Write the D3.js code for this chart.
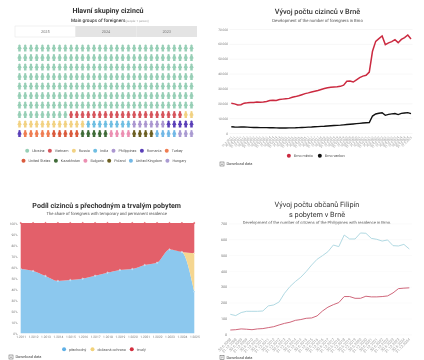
<!DOCTYPE html>
<html>
<head>
<meta charset="utf-8">
<script src="https://cdn.jsdelivr.net/npm/d3@7"></script>
<style>
  html, body { margin: 0; padding: 0; background: #fff; }
  svg { display: block; font-family: Roboto, sans-serif; will-change: transform; text-rendering: geometricPrecision; }
  .title { font-size: 7.1px; font-weight: 700; fill: #333; text-anchor: middle; }
  .title.light { font-size: 7.3px; font-weight: 400; }
  .sub { font-size: 4.2px; fill: #555; text-anchor: middle; }
  .tick text { fill: #777; }
  .legend { font-size: 3.7px; fill: #555; }
  .dl { font-size: 3.9px; fill: #444; }
</style>
</head>
<body>
<div id="container"></div>
<script>
// ---- waffle: main groups of foreigners
const groupNames = ["Ukraine", "Vietnam", "Russia", "India", "Philippines", "Romania", "Turkey",
  "United States", "Kazakhstan", "Bulgaria", "Poland", "United Kingdom", "Hungary"];
const groupCounts = [226, 20, 14, 8, 6, 6, 5, 5, 5, 4, 4, 4, 3];
const groupColors = ["#97cfb6", "#d6555c", "#f2d282", "#6fbee2", "#ab96d0", "#5a3fb8", "#ef7d52",
  "#da5a3c", "#3f6b38", "#ec8fb2", "#6c5f22", "#72b8e6", "#aa9bd2"];
const tabYears = ["2025", "2024", "2023"];

// ---- foreigners in Brno, quarterly
const quarterLabels = d3.range(2011, 2025).flatMap(y => ["31.3." + y, "30.6." + y, "30.9." + y, "31.12." + y]).concat(["31.3.2025"]);
const brnoCity = [20000, 19600, 18900, 19000, 20100, 20300, 20600, 20500, 20900, 20700, 20800, 21200,
  21800, 22000, 21900, 22500, 22800, 23100, 23300, 24000, 24500, 25100, 25800, 26500,
  27000, 27600, 28100, 28600, 29300, 29900, 30400, 30800, 31000, 31100, 31400, 32200,
  34800, 35000, 34300, 35800, 37300, 38300, 38800, 41000, 55000, 61700, 63500, 65300,
  59500, 60700, 61500, 62800, 60800, 63000, 64200, 66000, 63300];
const brnoRural = [4200, 4050, 3950, 4000, 4050, 3950, 3800, 3750, 3700, 3650, 3600, 3600,
  3550, 3500, 3450, 3400, 3400, 3400, 3450, 3450, 3500, 3600, 3700, 3800,
  3950, 4050, 4200, 4300, 4450, 4550, 4700, 4850, 5000, 5150, 5300, 5500,
  5700, 5900, 6100, 6300, 6500, 6700, 6850, 7000, 11400, 12800, 13300, 13650,
  11900, 12500, 12900, 13100, 12400, 13200, 13500, 13700, 13000];

// ---- share by residence type
const shareLabels = ["1.2011", "1.2012", "1.2013", "1.2014", "1.2015", "1.2016", "1.2017", "1.2018",
  "1.2019", "1.2020", "1.2021", "1.2022", "1.2023", "1.2024", "1.2025"];
const shareTemporary = [58.3, 56.5, 52, 47.5, 48.3, 49.5, 52.2, 55, 57.4, 58.3, 61.9, 64, 76, 73.7, 37.7];
const shareProtection = [0, 0, 0, 0, 0, 0, 0, 0, 0, 0, 0, 0, 0, 0, 34.8];
const sharePermanent = [41.7, 43.5, 48, 52.5, 51.7, 50.5, 47.8, 45, 42.6, 41.7, 38.1, 36, 24, 26.3, 27.5];
const shareNames = ["přechodný", "dočasná ochrana", "trvalý"];
const shareColors = ["#8cc8ee", "#f5d690", "#e3606a"];
const shareLegendColors = ["#5fb0e6", "#f2d27a", "#d32f3f"];

// ---- citizens of the Philippines
const filipinoLabels = d3.range(2008, 2025).flatMap(y => ["30.6." + y, "31.12." + y]);
const filipinoTotal = [126, 118, 137, 145, 145, 145, 147, 179, 185, 204, 259, 301, 333, 360, 396, 437, 473,
  496, 521, 563, 553, 626, 601, 601, 639, 637, 605, 599, 588, 595, 559, 557, 567, 538];
const filipinoResidence = [27, 29, 34, 32, 29, 34, 36, 42, 48, 59, 69, 76, 88, 93, 101, 103, 116,
  147, 171, 187, 200, 238, 238, 227, 227, 240, 236, 236, 238, 242, 261, 288, 291, 293];

const svg = d3.select("#container").append("svg")
    .attr("width", 424)
    .attr("height", 360);

const spaced = d => d3.format(",")(d).replace(/,/g, " ");

function titles(lines, sub, cx, ys, light) {
  lines.forEach((t, i) => {
    svg.append("text").attr("class", light ? "title light" : "title")
      .attr("x", cx).attr("y", ys[i]).text(t);
  });
  return svg.append("text").attr("class", "sub").attr("x", cx).attr("y", ys[lines.length]).text(sub);
}

// items laid out on one line, centred around cx
function legendRow(names, colors, cx, y, r, gap) {
  const g = svg.append("g");
  const items = g.selectAll("g").data(names).enter().append("g");
  items.append("circle").attr("r", r).attr("cy", 0)
    .attr("fill", (d, i) => colors[i]);
  items.append("text").attr("class", "legend").attr("x", r + 3).attr("y", 1.3).text(d => d);
  let pos = 0;
  items.each(function() {
    d3.select(this).attr("transform", "translate(" + pos + ",0)");
    pos += this.getBBox().width + gap;
  });
  g.attr("transform", "translate(" + (cx - (pos - gap) / 2 + r) + "," + y + ")");
}

function download(x, y) {
  const g = svg.append("g").attr("transform", "translate(" + x + "," + y + ")");
  g.append("rect").attr("x", -2).attr("y", -2).attr("width", 4).attr("height", 4)
    .attr("fill", "none").attr("stroke", "#555").attr("stroke-width", 0.5);
  g.append("path").attr("d", "M0,-1.2V0.8M-0.8,0.2L0,1L0.8,0.2").attr("fill", "none")
    .attr("stroke", "#555").attr("stroke-width", 0.4);
  g.append("text").attr("class", "dl").attr("x", 4.5).attr("y", 1.4).text("Download data");
}

function yAxis(scale, values, format, left, right, fontSize, padding) {
  const g = svg.append("g")
    .attr("transform", "translate(" + left + ",0)")
    .call(d3.axisLeft(scale).tickValues(values).tickFormat(format)
      .tickSize(left - right).tickPadding(padding));
  g.select(".domain").remove();
  g.selectAll(".tick line").attr("stroke", "#eee").attr("stroke-width", 0.5);
  g.selectAll(".tick text").style("font-size", fontSize + "px").attr("font-family", "Roboto");
  return g;
}

function xAxisRotated(scale, y, fontSize) {
  const g = svg.append("g")
    .attr("transform", "translate(0," + y + ")")
    .call(d3.axisBottom(scale).tickSize(0).tickPadding(0));
  g.select(".domain").remove();
  g.selectAll(".tick text")
    .style("font-size", fontSize + "px").attr("font-family", "Roboto")
    .style("text-anchor", "end")
    .style("fill", "#999")
    .attr("dy", "0.3em")
    .attr("transform", "rotate(-45)");
  return g;
}

//-----------------------------WAFFLE-----------------------------//
svg.append("text").attr("class", "title").attr("x", 108).attr("y", 13).text("Hlavní skupiny cizinců");
svg.append("text").attr("x", 71).attr("y", 21.5).attr("font-size", 4.7).attr("font-weight", 500).attr("fill", "#444")
    .text("Main groups of foreigners");
svg.append("text").attr("x", 125.5).attr("y", 21.5).attr("font-size", 2.9).attr("fill", "#999").text("(people: 1 person)");

const tabX = d3.scaleBand().domain(tabYears).range([15, 197]);
const tabs = svg.selectAll(".tab").data(tabYears).enter().append("g");
tabs.append("rect")
    .attr("x", d => tabX(d)).attr("y", 26)
    .attr("width", tabX.bandwidth()).attr("height", 11)
    .attr("fill", (d, i) => i == 0 ? "#fff" : "#e4e4e4")
    .attr("stroke", (d, i) => i == 0 ? "#ddd" : "none")
    .attr("stroke-width", 0.4);
tabs.append("text")
    .attr("x", d => tabX(d) + tabX.bandwidth() / 2).attr("y", 33)
    .attr("text-anchor", "middle").attr("font-size", 3.8).attr("fill", "#777")
    .text(d => d);

const cols = 31, rows = 10;
const colX = d3.scalePoint().domain(d3.range(cols)).range([19.5, 191.5]);
const rowY = d3.scalePoint().domain(d3.range(rows)).range([48, 133.5]);
const cells = groupCounts.flatMap((n, g) => d3.range(n).map(() => g));
// head and body with arms, joined so it reads as one chunky figure at this size
const personIcon = "M0,-4a1.3,1.3 0 1,1 -0.01,0Z M-1.3,-1.7H1.3L2.4,0.8L1.4,1.3V3.9H-1.4V1.3L-2.4,0.8Z";

svg.selectAll(".person").data(cells).enter().append("path")
    .attr("class", "person")
    .attr("d", personIcon)
    .attr("fill", d => groupColors[d])
    .attr("transform", (d, i) => "translate(" + colX(i % cols) + "," + rowY(Math.floor(i / cols)) + ") scale(0.9)");

legendRow(groupNames.slice(0, 7), groupColors.slice(0, 7), 104, 150.7, 2, 3.3);
legendRow(groupNames.slice(7), groupColors.slice(7), 104, 160.7, 2, 3.3);

//---------------------------BRNO LINES---------------------------//
titles(["Vývoj počtu cizinců v Brně"], "Development of the number of foreigners in Brno", 317.5, [13.5, 21.5], true)
svg.select(".title.light").style("font-weight", 500);

const brnoX = d3.scalePoint().domain(quarterLabels).range([231.3, 411]);
const brnoY = d3.scaleLinear().domain([0, 70000]).range([133, 29]);
yAxis(brnoY, d3.range(0, 70001, 10000), spaced, 229.5, 412.5, 3.2, 1.5);
xAxisRotated(brnoX, 137, 3);

const brnoLine = d3.line().x((d, i) => brnoX(quarterLabels[i])).y(d => brnoY(d));
svg.append("path").datum(brnoCity).attr("d", brnoLine)
    .attr("fill", "none").attr("stroke", "#cb2a40").attr("stroke-width", 1.5);
svg.append("path").datum(brnoRural).attr("d", brnoLine)
    .attr("fill", "none").attr("stroke", "#111").attr("stroke-width", 1.4);

legendRow(["Brno město", "Brno venkov"], ["#cb2a40", "#111"], 316, 155.7, 2, 5);
download(222, 164);

//-----------------------------SHARE------------------------------//
titles(["Podíl cizinců s přechodným a trvalým pobytem"], "The share of foreigners with temporary and permanent residence", 106.7, [207.5, 215]);

const shareX = d3.scalePoint().domain(shareLabels).range([20.7, 194.3]);
const shareY = d3.scaleLinear().domain([0, 100]).range([333.3, 223]);
yAxis(shareY, d3.range(0, 101, 10), d => d + "%", 19, 19, 3.2, 1.5);
const shareRows = shareLabels.map((d, i) => ({
  period: d, a: shareTemporary[i], b: shareProtection[i], c: sharePermanent[i]
}));
const shareStack = d3.stack().keys(["a", "b", "c"])(shareRows);
const shareArea = d3.area()
    .x(d => shareX(d.data.period))
    .y0(d => shareY(d[0]))
    .y1(d => shareY(d[1]))
    .curve(d3.curveMonotoneX);
svg.selectAll(".layer").data(shareStack).enter().append("path")
    .attr("class", "layer")
    .attr("d", shareArea)
    .attr("fill", (d, i) => shareColors[i]);
shareStack.forEach((layer, i) => {
  svg.append("g").selectAll("circle").data(layer.filter(d => i != 1 || d.data.b > 0)).enter().append("circle")
    .attr("cx", d => shareX(d.data.period))
    .attr("cy", d => shareY(d[1]))
    .attr("r", 0.7)
    .attr("fill", shareColors[i])
    .attr("stroke", i == 2 ? "#e3606a" : "#fff")
    .attr("stroke-width", 0.4);
});
const shareAxisX = svg.append("g")
    .attr("transform", "translate(0,334.5)")
    .call(d3.axisBottom(shareX).tickSize(0).tickPadding(1));
shareAxisX.select(".domain").remove();
shareAxisX.selectAll(".tick text").style("font-size", "3.2px").attr("font-family", "Roboto");

legendRow(shareNames, shareLegendColors, 104, 349.3, 2, 4);
download(11, 357);

//----------------------------FILIPINO----------------------------//
titles(["Vývoj počtu občanů Filipín", "s pobytem v Brně"], "Development of the number of citizens of the Philippines with residence in Brno.", 317, [206.5, 216.5, 223.5], true);
svg.selectAll(".title.light").filter((d, i, n) => n[i].textContent != "Vývoj počtu cizinců v Brně").style("font-weight", 400);

const filX = d3.scalePoint().domain(filipinoLabels).range([230.3, 409.3]);
const filY = d3.scaleLinear().domain([0, 700]).range([334.3, 223.3]);
const filAxisY = yAxis(filY, d3.range(0, 701, 100), d3.format("d"), 229, 412, 3.6, 2);
filAxisY.selectAll(".tick line").attr("stroke", "#f6f6f6");
xAxisRotated(filX, 339, 3.8);

const filLine = d3.line().x((d, i) => filX(filipinoLabels[i])).y(d => filY(d));
svg.append("path").datum(filipinoTotal).attr("d", filLine)
    .attr("fill", "none").attr("stroke", "#a8d5df").attr("stroke-width", 0.9);
svg.append("path").datum(filipinoResidence).attr("d", filLine)
    .attr("fill", "none").attr("stroke", "#c9566c").attr("stroke-width", 0.9);

download(222, 357.3);
</script>
</body>
</html>
